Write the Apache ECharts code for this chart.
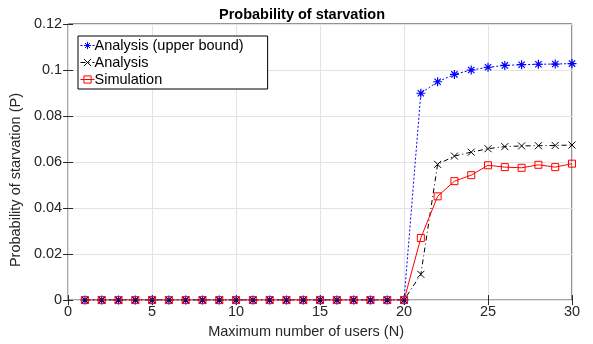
<!DOCTYPE html>
<html><head><meta charset="utf-8">
<script src="https://cdn.jsdelivr.net/npm/echarts@6/dist/echarts.min.js"></script>
<style>html,body{margin:0;padding:0;background:#fff}#c{width:593px;height:344px}</style>
</head><body><div id="c"></div>
<script>
const users = [1,2,3,4,5,6,7,8,9,10,11,12,13,14,15,16,17,18,19,20,21,22,23,24,25,26,27,28,29,30];
const upperBound = [0,0,0,0,0,0,0,0,0,0,0,0,0,0,0,0,0,0,0,0,0.0899,0.0949,0.0981,0.1000,0.1012,0.1020,0.1023,0.1025,0.1026,0.1028];
const analysis = [0,0,0,0,0,0,0,0,0,0,0,0,0,0,0,0,0,0,0,0,0.0112,0.0590,0.0626,0.0643,0.0658,0.0667,0.0670,0.0671,0.0672,0.0674];
const simulation = [0,0,0,0,0,0,0,0,0,0,0,0,0,0,0,0,0,0,0,0,0.0270,0.0451,0.0517,0.0543,0.0586,0.0578,0.0575,0.0588,0.0578,0.0593];
const seriesNames = ['Analysis (upper bound)','Analysis','Simulation'];
const xTicks = [0,5,10,15,20,25,30];
const yTicks = [0,0.02,0.04,0.06,0.08,0.1,0.12];

const font = 'Liberation Sans, Helvetica, Arial, sans-serif';
const fs = 14.5;
const axisCol = '#262626';
const star = 'path://M-5 0L5 0M0 -5L0 5M-3.5 -3.5L3.5 3.5M-3.5 3.5L3.5 -3.5';
const cross = 'path://M-4 -4L4 4M-4 4L4 -4';
const pair = a => a.map((v,i)=>[users[i], v]);

const chart = echarts.init(document.getElementById('c'), null, {renderer:'canvas'});
const baseX = {type:'value', min:0, max:30, interval:5, splitLine:{show:false}, axisLine:{show:false}, axisTick:{show:true, inside:true, length:5, lineStyle:{color:axisCol}}, axisLabel:{show:false}};
const baseY = {type:'value', min:0, max:0.12, interval:0.02, splitLine:{show:false}, axisLine:{show:false}, axisTick:{show:true, inside:true, length:5, lineStyle:{color:axisCol}}, axisLabel:{show:false}};
chart.setOption({
  animation:false,
  backgroundColor:'#fff',
  title:{text:'Probability of starvation', left:297, textAlign:'center', top:2, textStyle:{fontFamily:font, fontSize:fs, fontWeight:'bold', color:'#000'}},
  grid:{left:65, right:21, top:24, bottom:43, show:true, borderColor:axisCol, borderWidth:1},
  legend:{
    data:seriesNames, orient:'vertical', left:78, top:36, itemWidth:14, itemHeight:9, itemGap:0,
    padding:[1,24,1,2], borderColor:'#000', borderWidth:1, backgroundColor:'#fff',
    itemStyle:{borderWidth:1}, lineStyle:{width:1},
    textStyle:{fontFamily:font, fontSize:fs, lineHeight:17, color:'#000', padding:[0,0,0,-5]}
  },
  xAxis:[{
    type:'value', min:0, max:30, interval:5,
    name:'Maximum number of users (N)', nameLocation:'middle', nameGap:20,
    nameTextStyle:{fontFamily:font, fontSize:fs, color:axisCol, padding:[0,28,0,0]},
    axisLine:{show:false}, axisTick:{show:true, inside:true, length:5, lineStyle:{color:axisCol}},
    axisLabel:{fontFamily:font, fontSize:fs, color:axisCol, margin:4, formatter:v=>xTicks.includes(v)?String(v):''},
    splitLine:{show:true, lineStyle:{color:'#e3e3e3', width:1}}
  }, Object.assign({position:'top'}, baseX)],
  yAxis:[{
    type:'value', min:0, max:0.12, interval:0.02,
    name:'Probability of starvation (P)', nameLocation:'middle', nameGap:31,
    nameTextStyle:{fontFamily:font, fontSize:fs, color:axisCol, padding:[0,36,0,0]},
    axisLine:{show:false}, axisTick:{show:true, inside:true, length:5, lineStyle:{color:axisCol}},
    axisLabel:{fontFamily:font, fontSize:fs, color:axisCol, margin:6, formatter:v=>{const t=yTicks.find(y=>Math.abs(y-v)<1e-9); return t===undefined?'':String(+t.toFixed(2));}},
    splitLine:{show:true, lineStyle:{color:'#e3e3e3', width:1}}
  }, Object.assign({position:'right'}, baseY)],
  series:[
    {name:seriesNames[0], type:'line', data:pair(upperBound), symbol:star, symbolSize:9, showAllSymbol:true,
     lineStyle:{color:'#0000ff', width:1, type:[2,2]},
     itemStyle:{color:'#0000ff', borderColor:'#0000ff', borderWidth:1.2}, z:2},
    {name:seriesNames[1], type:'line', data:pair(analysis), symbol:cross, symbolSize:7, showAllSymbol:true,
     lineStyle:{color:'#000', width:1, type:[5,3,1,3]},
     itemStyle:{color:'#000', borderColor:'#000', borderWidth:1}, z:3},
    {name:seriesNames[2], type:'line', data:pair(simulation), symbol:'rect', symbolSize:7, showAllSymbol:true,
     lineStyle:{color:'#ff0000', width:1},
     itemStyle:{color:'rgba(0,0,0,0)', borderColor:'#ff0000', borderWidth:1}, z:4}
  ]
});
</script></body></html>
